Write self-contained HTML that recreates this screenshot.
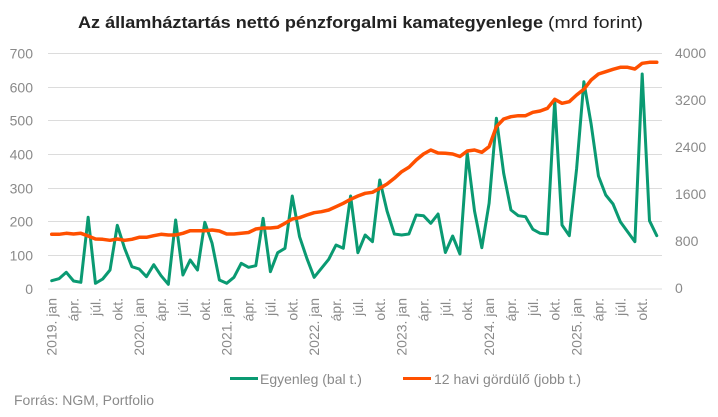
<!DOCTYPE html>
<html>
<head>
<meta charset="utf-8">
<style>
  html,body{margin:0;padding:0;background:#fff;}
  svg{display:block;}
  text{font-family:"Liberation Sans",Arial,sans-serif;}
</style>
</head>
<body>
<svg width="718" height="417" viewBox="0 0 718 417" xmlns="http://www.w3.org/2000/svg">
  <rect width="718" height="417" fill="#fff"/>
  <!-- Title -->
  <text x="78" y="28" font-size="17" font-weight="bold" fill="#222" textLength="465" lengthAdjust="spacingAndGlyphs">Az államháztartás nettó pénzforgalmi kamategyenlege</text>
  <text x="548" y="28" font-size="17" fill="#222" textLength="95" lengthAdjust="spacingAndGlyphs">(mrd forint)</text>

  <!-- Gridlines -->
  <g stroke="#dcdcdc" stroke-width="1">
    <line x1="48" y1="53.5" x2="662" y2="53.5"/>
    <line x1="48" y1="87.5" x2="662" y2="87.5"/>
    <line x1="48" y1="120.5" x2="662" y2="120.5"/>
    <line x1="48" y1="154.5" x2="662" y2="154.5"/>
    <line x1="48" y1="188.5" x2="662" y2="188.5"/>
    <line x1="48" y1="221.5" x2="662" y2="221.5"/>
    <line x1="48" y1="255.5" x2="662" y2="255.5"/>
    <line x1="48" y1="289" x2="662" y2="289"/>
  </g>

  <!-- Left axis labels -->
  <g font-size="14" fill="#8a8a8a" text-anchor="end">
    <text x="33" y="58.5">700</text>
    <text x="33" y="92.5">600</text>
    <text x="33" y="125.5">500</text>
    <text x="33" y="159.5">400</text>
    <text x="33" y="193.5">300</text>
    <text x="33" y="226.5">200</text>
    <text x="33" y="260.5">100</text>
    <text x="33" y="294">0</text>
  </g>

  <!-- Right axis labels -->
  <g font-size="14" fill="#8a8a8a">
    <text x="675" y="58">4000</text>
    <text x="675" y="105">3200</text>
    <text x="675" y="152">2400</text>
    <text x="675" y="199">1600</text>
    <text x="675" y="246">800</text>
    <text x="675" y="293">0</text>
  </g>

  <!-- X axis labels (rotated) -->
  <g font-size="14" fill="#8a8a8a" text-anchor="end">
    <text transform="translate(56.7,298) rotate(-90)">2019. jan</text>
    <text transform="translate(78.6,298) rotate(-90)">ápr.</text>
    <text transform="translate(100.4,298) rotate(-90)">júl.</text>
    <text transform="translate(122.3,298) rotate(-90)">okt.</text>
    <text transform="translate(144.2,298) rotate(-90)">2020. jan</text>
    <text transform="translate(166.1,298) rotate(-90)">ápr.</text>
    <text transform="translate(187.9,298) rotate(-90)">júl.</text>
    <text transform="translate(209.8,298) rotate(-90)">okt.</text>
    <text transform="translate(231.7,298) rotate(-90)">2021. jan</text>
    <text transform="translate(253.5,298) rotate(-90)">ápr.</text>
    <text transform="translate(275.4,298) rotate(-90)">júl.</text>
    <text transform="translate(297.3,298) rotate(-90)">okt.</text>
    <text transform="translate(319.1,298) rotate(-90)">2022. jan</text>
    <text transform="translate(341.0,298) rotate(-90)">ápr.</text>
    <text transform="translate(362.9,298) rotate(-90)">júl.</text>
    <text transform="translate(384.8,298) rotate(-90)">okt.</text>
    <text transform="translate(406.6,298) rotate(-90)">2023. jan</text>
    <text transform="translate(428.5,298) rotate(-90)">ápr.</text>
    <text transform="translate(450.4,298) rotate(-90)">júl.</text>
    <text transform="translate(472.2,298) rotate(-90)">okt.</text>
    <text transform="translate(494.1,298) rotate(-90)">2024. jan</text>
    <text transform="translate(516.0,298) rotate(-90)">ápr.</text>
    <text transform="translate(537.8,298) rotate(-90)">júl.</text>
    <text transform="translate(559.7,298) rotate(-90)">okt.</text>
    <text transform="translate(581.6,298) rotate(-90)">2025. jan</text>
    <text transform="translate(603.5,298) rotate(-90)">ápr.</text>
    <text transform="translate(625.3,298) rotate(-90)">júl.</text>
    <text transform="translate(647.2,298) rotate(-90)">okt.</text>
  </g>

  <!-- Green series: Egyenleg -->
  <polyline fill="none" stroke="#0a9a72" stroke-width="3" stroke-linejoin="round" stroke-linecap="round" points="
51.7,280.7 58.99,278.7 66.28,272.3 73.57,281 80.86,282.3 88.15,217.3 95.44,283.3 102.73,279 110.02,270 117.31,225.3
124.6,248.3 131.89,266.7 139.18,269 146.47,276.7 153.76,264.7 161.05,275.7 168.34,284.3 175.63,220 182.92,275 190.21,260
197.5,270 204.79,222.3 212.08,243.3 219.37,280 226.66,283.3 233.95,277.3 241.24,263.3 248.53,267.3 255.82,265.7 263.11,218.3
270.4,271.7 277.69,252.7 284.98,248.3 292.27,196 299.56,236.7 306.85,258.3 314.14,277.3 321.43,268.3 328.72,259.3 336.01,245
343.3,248.3 350.59,196 357.88,252.7 365.17,235 372.46,241.7 379.75,180 387.04,211 394.33,234 401.62,235 408.91,234
416.2,215 423.49,215.7 430.78,223.3 438.07,214 445.36,252.5 452.65,236 459.94,254 467.23,153 474.52,211 481.81,247.7
489.1,203.3 496.39,118.3 503.68,173.3 510.97,210 518.26,215.7 525.55,216.7 532.84,229.3 540.13,233.3 547.42,234 554.71,100.5
562,225 569.29,235.7 576.58,169 583.87,81.7 591.16,124.3 598.45,176 605.74,195 613.03,204 620.32,221.7 627.61,231.7
634.9,241.7 642.19,74 649.48,220.7 656.77,235.7"/>

  <!-- Orange series: 12 havi gördülő -->
  <polyline fill="none" stroke="#ff5000" stroke-width="3.5" stroke-linejoin="round" stroke-linecap="round" points="
51.7,234.3 58.99,234.3 66.28,233.3 73.57,234 80.86,233.3 88.15,236 95.44,239 102.73,239.3 110.02,240.3 117.31,239
124.6,240.3 131.89,239.3 139.18,237.3 146.47,237.3 153.76,235.7 161.05,234.3 168.34,235 175.63,235 182.92,233.3 190.21,230.7
197.5,230.7 204.79,230.7 212.08,230 219.37,231 226.66,234 233.95,234 241.24,233.3 248.53,232.5 255.82,229 263.11,228
270.4,228 277.69,227.3 284.98,223.3 292.27,219 299.56,217.7 306.85,215 314.14,212.7 321.43,211.7 328.72,210 336.01,206.7
343.3,203.3 350.59,199.3 357.88,196 365.17,193.3 372.46,192.3 379.75,188.3 387.04,184 394.33,178.3 401.62,171.7 408.91,167.3
416.2,160 423.49,154 430.78,150 438.07,153 445.36,153.3 452.65,154 459.94,156.5 467.23,151 474.52,150 481.81,152.3
489.1,146.7 496.39,126.7 503.68,119 510.97,116.7 518.26,115.7 525.55,115.7 532.84,112.3 540.13,111 547.42,108.3 554.71,99.3
562,103.3 569.29,101.7 576.58,95 583.87,89.3 591.16,80 598.45,74 605.74,71.7 613.03,69.3 620.32,67.3 627.61,67.3
634.9,69 642.19,63.3 649.48,62.3 656.77,62.3"/>

  <!-- Legend -->
  <line x1="230" y1="378.5" x2="258" y2="378.5" stroke="#0a9a72" stroke-width="3"/>
  <text x="260" y="384" font-size="14" fill="#8a8a8a">Egyenleg (bal t.)</text>
  <line x1="403" y1="378.5" x2="431" y2="378.5" stroke="#ff5000" stroke-width="3"/>
  <text x="434" y="384" font-size="14" fill="#8a8a8a">12 havi gördülő (jobb t.)</text>

  <!-- Source -->
  <text x="14" y="405" font-size="14" fill="#8a8a8a">Forrás: NGM, Portfolio</text>
</svg>
</body>
</html>
